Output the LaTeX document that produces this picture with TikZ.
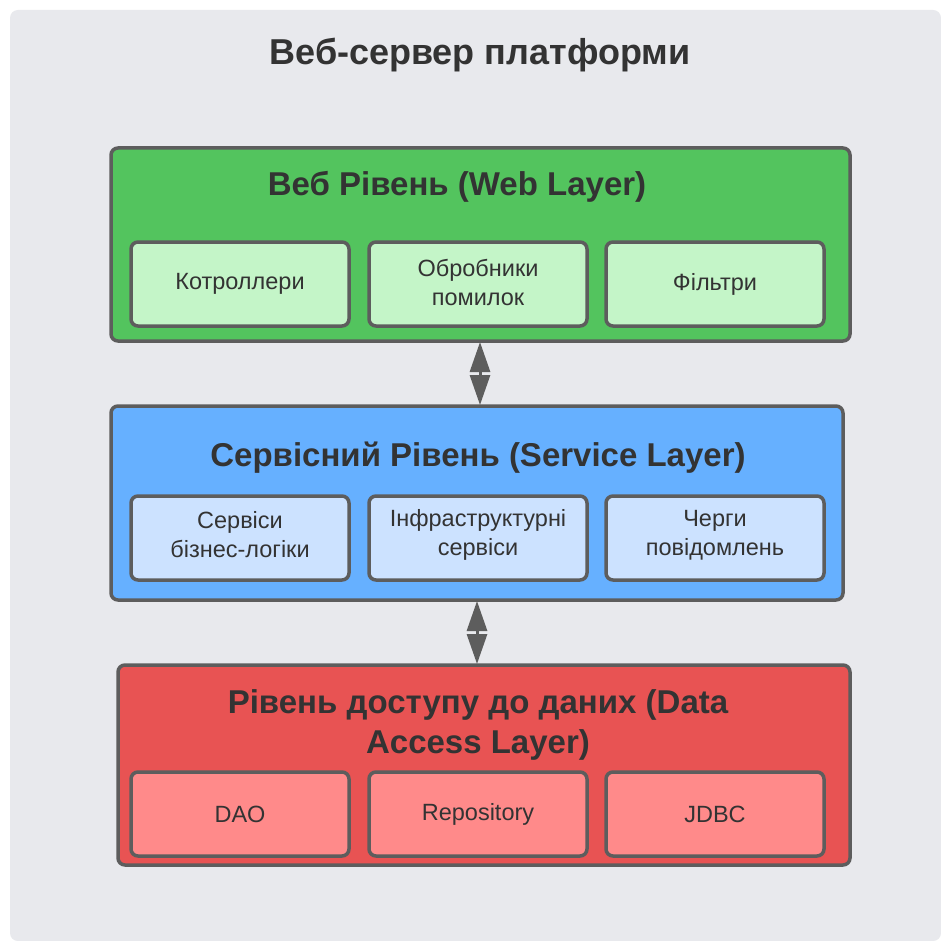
\documentclass[tikz,border=0pt]{standalone}
\usepackage{fontspec}
\setmainfont{Liberation Sans}
\usetikzlibrary{arrows.meta}
\definecolor{bgc}{RGB}{232,233,237}
\definecolor{strk}{RGB}{93,93,93}
\definecolor{txt}{RGB}{51,51,51}
\definecolor{gOut}{RGB}{83,196,94}
\definecolor{gIn}{RGB}{196,245,200}
\definecolor{bOut}{RGB}{102,176,255}
\definecolor{bIn}{RGB}{204,226,255}
\definecolor{rOut}{RGB}{232,83,83}
\definecolor{rIn}{RGB}{255,138,138}
\tikzset{
  layer/.style={draw=strk, line width=3.5pt, rounded corners=7pt},
  comp/.style={draw=strk, line width=3.5pt, rounded corners=7pt},
  ctext/.style={text=txt, font=\fontsize{23.5}{29}\selectfont, align=center},
  ltitle/.style={text=txt, font=\bfseries\fontsize{33}{40}\selectfont, align=center},
  conn/.style={draw=strk, line width=3pt, {Triangle[width=20pt,length=30pt]}-{Triangle[width=20pt,length=30pt]}, shorten <=1pt, shorten >=1pt}
}
\begin{document}
\begin{tikzpicture}[x=1pt,y=-1pt]
\useasboundingbox (0,0) rectangle (941,941);
\fill[white] (0,0) rectangle (941,941);
\fill[bgc, rounded corners=8pt] (10,10) rectangle (941,941);
\node[text=txt, font=\bfseries\fontsize{36}{42}\selectfont] (title) at (480,55) {Веб-сервер платформи};

% Web layer
\draw[layer, fill=gOut] (111,148) rectangle (850,341);
\coordinate (webT) at (480,148);
\coordinate (webB) at (480,341);
\node[ltitle] (webtitle) at (457,187) {Веб Рівень (Web Layer)};
\draw[comp, fill=gIn] (131,242) rectangle (349,326);
\draw[comp, fill=gIn] (369,242) rectangle (587,326);
\draw[comp, fill=gIn] (606,242) rectangle (824,326);
\node[ctext] (w1) at (240,284) {Котроллери};
\node[ctext] (w2) at (478,282) {Обробники\\помилок};
\node[ctext] (w3) at (715,284) {Фільтри};

% Service layer
\draw[layer, fill=bOut] (111,406) rectangle (843,600);
\coordinate (srvT) at (480,406);
\coordinate (srvT2) at (477,600);
\node[ltitle] (srvtitle) at (478,458) {Сервісний Рівень (Service Layer)};
\draw[comp, fill=bIn] (131,496) rectangle (349,580);
\draw[comp, fill=bIn] (369,496) rectangle (587,580);
\draw[comp, fill=bIn] (606,496) rectangle (824,580);
\node[ctext] (s1) at (240,535) {Сервіси\\бізнес-логіки};
\node[ctext] (s2) at (478,535) {Інфраструктурні\\сервіси};
\node[ctext] (s3) at (715,535) {Черги\\повідомлень};

% Data layer
\draw[layer, fill=rOut] (118,665) rectangle (850,865);
\coordinate (datT) at (477,665);
\node[ltitle] (dattitle) at (478,725) {Рівень доступу до даних (Data\\Access Layer)};
\draw[comp, fill=rIn] (131,772) rectangle (349,856);
\draw[comp, fill=rIn] (369,772) rectangle (587,856);
\draw[comp, fill=rIn] (606,772) rectangle (824,856);
\node[ctext] (d1) at (240,814) {DAO};
\node[ctext] (d2) at (478,814) {Repository};
\node[ctext] (d3) at (715,814) {JDBC};

% Connectors
\draw[conn] (webB) -- (srvT);
\draw[conn] (srvT2) -- (datT);
\end{tikzpicture}
\end{document}
